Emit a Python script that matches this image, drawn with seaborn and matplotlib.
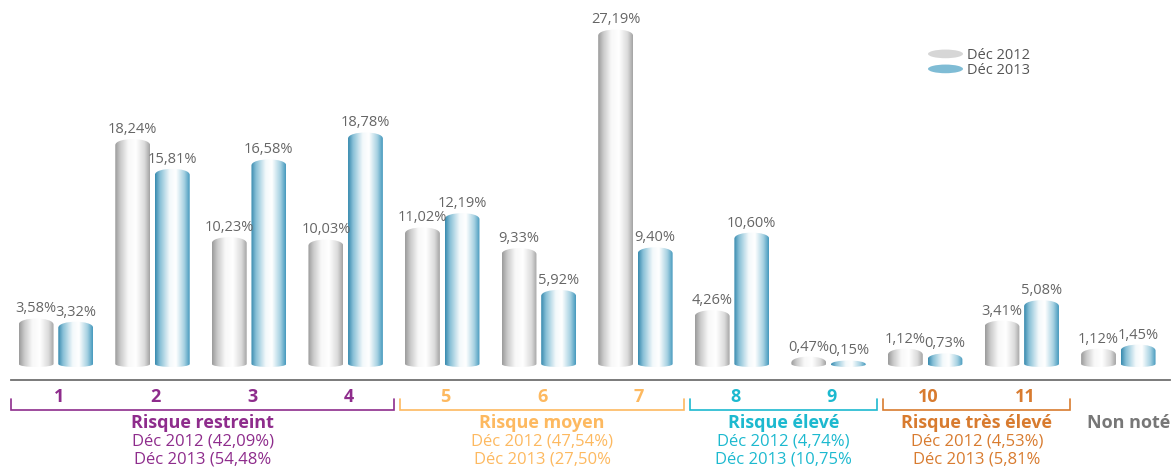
import numpy as np
import pandas as pd
import matplotlib
matplotlib.use("Agg")
import matplotlib.pyplot as plt
import seaborn as sns
from matplotlib.colors import LinearSegmentedColormap
from matplotlib.path import Path
from matplotlib.patches import PathPatch, Ellipse, Patch
from matplotlib.legend_handler import HandlerPatch
import matplotlib.transforms as mtransforms

# ---------------- data ----------------
categories = ["1", "2", "3", "4", "5", "6", "7", "8", "9", "10", "11", "Non noté"]
series_names = ["Déc 2012", "Déc 2013"]
values_2012 = [3.58, 18.24, 10.23, 10.03, 11.02, 9.33, 27.19, 4.26, 0.47, 1.12, 3.41, 1.12]
values_2013 = [3.32, 15.81, 16.58, 18.78, 12.19, 5.92, 9.40, 10.60, 0.15, 0.73, 5.08, 1.45]

group_names = ["Risque restreint", "Risque moyen", "Risque élevé", "Risque très élevé"]
group_ranges = [(0, 3), (4, 6), (7, 8), (9, 10)]
group_2012 = ["Déc 2012 (42,09%)", "Déc 2012 (47,54%)", "Déc 2012 (4,74%)", "Déc 2012 (4,53%)"]
group_2013 = ["Déc 2013 (54,48%", "Déc 2013 (27,50%", "Déc 2013 (10,75%", "Déc 2013 (5,81%"]
group_colors = ["#8e2c8c", "#fdb960", "#1cb9cf", "#d87b2f"]
nonnote_label = "Non noté"
nonnote_color = "#777777"

df = pd.DataFrame({
    "cat": categories * 2,
    "serie": [series_names[0]] * len(categories) + [series_names[1]] * len(categories),
    "val": values_2012 + values_2013,
})

# ---------------- figure ----------------
W, H = 1173, 468
fig = plt.figure(figsize=(W / 100, H / 100), dpi=100)
sns.set_style("white")
plt.rcParams["font.family"] = ["Open Sans", "DejaVu Sans"]

ax_left, ax_right = 11, 1170
base_px, axis_px = 367, 380
px_per_unit = 12.24
ax = fig.add_axes([ax_left / W, (H - axis_px) / H, (ax_right - ax_left) / W, axis_px / H])

sns.barplot(data=df, x="cat", y="val", hue="serie", order=categories, hue_order=series_names,
            palette=["#d0d0d0", "#6fb3cf"], width=0.82, gap=0.12, errorbar=None,
            legend=False, ax=ax)

off = 0.035
ymin = -(axis_px - base_px) / px_per_unit
ymax = base_px / px_per_unit

gray_cmap = LinearSegmentedColormap.from_list("g", [
    (0, "#9a9a9a"), (0.15, "#c9c9c9"), (0.38, "#f8f8f8"), (0.6, "#ffffff"),
    (0.85, "#dadada"), (1, "#a3a3a3")])
blue_cmap = LinearSegmentedColormap.from_list("b", [
    (0, "#3689ad"), (0.14, "#86bfd6"), (0.42, "#f3f9fb"), (0.6, "#ffffff"),
    (0.84, "#a6d1e2"), (1, "#4599bd")])
cmaps = [gray_cmap, blue_cmap]
grad = np.linspace(0, 1, 256).reshape(1, -1)
extra = 0.38

for ci, cont in enumerate(ax.containers):
    for bar in cont:
        x0 = bar.get_x()
        w = bar.get_width()
        x1 = x0 + w
        v = bar.get_height()
        Ht = v + extra
        r = min(0.5, 0.6 * Ht)
        rb = min(0.25, 0.4 * Ht)
        k = 4.0 / 3.0
        verts = [
            (x0, rb), (x0, Ht - r),
            (x0, Ht - r + k * r), (x1, Ht - r + k * r), (x1, Ht - r),
            (x1, rb),
            (x1, rb - k * rb), (x0, rb - k * rb), (x0, rb),
            (x0, rb),
        ]
        codes = [Path.MOVETO, Path.LINETO,
                 Path.CURVE4, Path.CURVE4, Path.CURVE4,
                 Path.LINETO,
                 Path.CURVE4, Path.CURVE4, Path.CURVE4,
                 Path.CLOSEPOLY]
        pp = PathPatch(Path(verts, codes), facecolor="none", edgecolor="none",
                       transform=ax.transData)
        ax.add_patch(pp)
        im = ax.imshow(grad, extent=[x0, x1, 0, Ht], aspect="auto",
                       cmap=cmaps[ci], interpolation="bilinear", zorder=2)
        im.set_clip_path(pp)
        bar.set_visible(False)
        lbl = f"{v:.2f}".replace(".", ",") + "%"
        ax.annotate(lbl, (x0 + w / 2, Ht), xytext=(0, 1.5), textcoords="offset points",
                    ha="center", va="bottom", fontsize=10.5, color="#666666", zorder=3)

ax.set_xlim(-0.5 + off, len(categories) - 0.5 + off)
ax.set_ylim(ymin, ymax)

# axis
for s in ["top", "right", "left"]:
    ax.spines[s].set_visible(False)
ax.spines["bottom"].set_color("#707070")
ax.spines["bottom"].set_linewidth(1.3)
ax.set_yticks([])
bounds = np.arange(len(categories) + 1) - 0.5 + off
ax.set_xticks(bounds)
ax.set_xticklabels([])
ax.tick_params(axis="x", direction="in", length=6.5, width=1.2, color="#707070")
ax.set_xlabel("")
ax.set_ylabel("")

# group labels
tr = mtransforms.blended_transform_factory(ax.transData, fig.transFigure)
def fy(py):
    return 1 - py / H

px_unit = (ax_right - ax_left) / len(categories)
inset = 3 / px_unit
for gi, (a, b) in enumerate(group_ranges):
    col = group_colors[gi]
    for c in range(a, b + 1):
        ax.text(c + off, fy(397), categories[c], transform=tr, ha="center", va="center",
                fontsize=13, fontweight="bold", color=col)
    xa = a - 0.5 + off + (0 if gi == 0 else inset)
    xb = b + 0.5 + off - inset
    ax.plot([xa, xa, xb, xb], [fy(399), fy(410), fy(410), fy(399)], transform=tr,
            color=col, lw=1.2, clip_on=False, solid_joinstyle="miter")
    xc = (xa + xb) / 2
    ax.text(xc, fy(423), group_names[gi], transform=tr, ha="center", va="center",
            fontsize=13, fontweight="bold", color=col)
    ax.text(xc, fy(442), group_2012[gi], transform=tr, ha="center", va="center",
            fontsize=12, color=col)
    ax.text(xc, fy(460), group_2013[gi], transform=tr, ha="center", va="center",
            fontsize=12, color=col)

ax.text(len(categories) - 1 + off + 0.07, fy(423), nonnote_label, transform=tr, ha="center",
        va="center", fontsize=13, fontweight="bold", color=nonnote_color)

# legend
class HandlerEllipse(HandlerPatch):
    def create_artists(self, legend, orig_handle, xdescent, ydescent, width, height,
                       fontsize, trans):
        e = Ellipse(xy=(0.5 * width - xdescent, 0.5 * height - ydescent),
                    width=width, height=height * 0.85)
        self.update_prop(e, orig_handle, legend)
        e.set_transform(trans)
        return [e]

handles = [Patch(facecolor="#d6d6d6", edgecolor="none", label=series_names[0]),
           Patch(facecolor="#7fbcd5", edgecolor="none", label=series_names[1])]
leg = ax.legend(handles=handles, handler_map={Patch: HandlerEllipse()},
                loc="upper left", bbox_to_anchor=((928 - ax_left) / (ax_right - ax_left), 1 - 48 / axis_px),
                frameon=False, fontsize=10.5, handlelength=2.4, handleheight=0.7,
                handletextpad=0.25, labelspacing=0.0, borderpad=0, borderaxespad=0)
for t in leg.get_texts():
    t.set_color("#555555")

fig.savefig("out.png", dpi=100)
